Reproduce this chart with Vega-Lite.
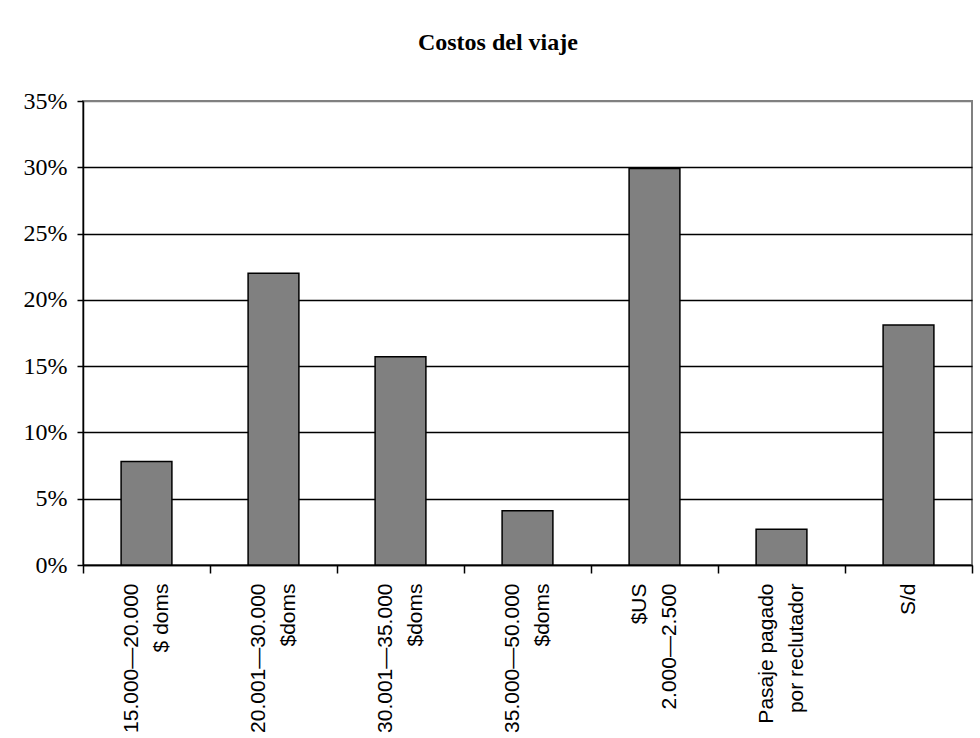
{
  "$schema": "https://vega.github.io/schema/vega-lite/v6.json",
  "autosize": "none",
  "width": 889,
  "height": 464,
  "padding": {"left": 83, "top": 101, "right": 8, "bottom": 173},
  "background": "white",
  "title": {
    "text": "Costos del viaje",
    "font": "Liberation Serif",
    "fontSize": 24,
    "fontWeight": "bold",
    "color": "black",
    "anchor": "middle",
    "frame": "bounds",
    "baseline": "bottom",
    "offset": 10
  },
  "data": {
    "values": [
      {"categoria": "15.000—20.000|$ doms", "orden": 1, "porcentaje": 0.078},
      {"categoria": "20.001—30.000|$doms", "orden": 2, "porcentaje": 0.22},
      {"categoria": "30.001—35.000|$doms", "orden": 3, "porcentaje": 0.157},
      {"categoria": "35.000—50.000|$doms", "orden": 4, "porcentaje": 0.041},
      {"categoria": "$US|2.000—2.500", "orden": 5, "porcentaje": 0.299},
      {"categoria": "Pasaje pagado|por reclutador", "orden": 6, "porcentaje": 0.027},
      {"categoria": "S/d", "orden": 7, "porcentaje": 0.181}
    ]
  },
  "mark": {"type": "bar", "fill": "#808080", "stroke": "black", "strokeWidth": 1.5, "width": {"band": 0.4}},
  "encoding": {
    "x": {
      "field": "categoria",
      "type": "nominal",
      "sort": {"field": "orden"},
      "title": null,
      "scale": {"paddingInner": 0, "paddingOuter": 0},
      "axis": {
        "labelExpr": "split(datum.label, '|')",
        "labelAngle": -90,
        "labelAlign": "right",
        "labelBaseline": "middle",
        "labelFont": "Liberation Sans",
        "labelFontSize": 21,
        "labelLineHeight": 30,
        "labelColor": "black",
        "labelPadding": 10,
        "labelOffset": {"condition": {"test": "datum.value == 'S/d'", "value": 0}, "value": -15},
        "tickBand": "extent",
        "tickColor": "black",
        "tickSize": 8,
        "tickWidth": 1.5,
        "domainColor": "black",
        "domainWidth": 1.5,
        "grid": false
      }
    },
    "y": {
      "field": "porcentaje",
      "type": "quantitative",
      "title": null,
      "scale": {"domain": [0, 0.35], "nice": false},
      "axis": {
        "values": [0, 0.05, 0.1, 0.15, 0.2, 0.25, 0.3, 0.35],
        "format": ".0%",
        "labelFont": "Liberation Serif",
        "labelFontSize": 24,
        "labelColor": "black",
        "labelPadding": 10,
        "tickColor": "black",
        "tickSize": 6,
        "tickWidth": 1.5,
        "domainColor": "black",
        "domainWidth": 1.5,
        "grid": true,
        "gridColor": {"condition": {"test": "datum.value >= 0.35", "value": "#808080"}, "value": "black"},
        "gridWidth": 1.5,
        "gridOpacity": 1
      }
    }
  },
  "config": {
    "view": {"stroke": "#808080", "strokeWidth": 2}
  }
}
